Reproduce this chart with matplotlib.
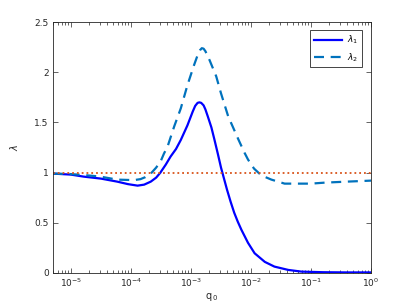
import numpy as np
import matplotlib
matplotlib.use('Agg')
from matplotlib import pyplot as plt
from matplotlib.ticker import LogLocator, FixedLocator, NullFormatter

# log10(q0) positions and eigenvalues
logq_1 = [-5.30, -5.00, -4.79, -4.50, -4.23, -4.05, -3.89, -3.78, -3.67, -3.58,
          -3.51, -3.42, -3.34, -3.25, -3.17, -3.06, -2.97, -2.93, -2.89, -2.86,
          -2.83, -2.79, -2.76, -2.72, -2.66, -2.61, -2.55, -2.50, -2.45, -2.40,
          -2.34, -2.28, -2.22, -2.16, -2.05, -1.94, -1.77, -1.61, -1.38, -1.16,
          -0.80, -0.40, 0.00]
lam_1 = [0.99, 0.98, 0.96, 0.94, 0.91, 0.885, 0.87, 0.88, 0.91, 0.95,
         1.00, 1.08, 1.16, 1.235, 1.325, 1.47, 1.61, 1.665, 1.695, 1.70,
         1.695, 1.67, 1.63, 1.56, 1.45, 1.33, 1.18, 1.05, 0.94, 0.83,
         0.71, 0.60, 0.51, 0.43, 0.30, 0.196, 0.11, 0.063, 0.03, 0.013,
         0.007, 0.005, 0.005]

logq_2 = [-5.30, -5.00, -4.79, -4.51, -4.23, -3.95, -3.84, -3.76, -3.67, -3.58,
          -3.50, -3.45, -3.39, -3.28, -3.17, -3.06, -2.95, -2.89, -2.85, -2.82,
          -2.79, -2.76, -2.69, -2.58, -2.50, -2.38, -2.21, -2.11, -2.05, -1.95,
          -1.86, -1.76, -1.66, -1.44, -1.21, -1.00, -0.77, -0.40, 0.00]
lam_2 = [0.99, 0.985, 0.976, 0.96, 0.93, 0.925, 0.935, 0.955, 0.99, 1.05,
         1.12, 1.19, 1.26, 1.46, 1.64, 1.87, 2.07, 2.17, 2.22, 2.24,
         2.235, 2.21, 2.12, 1.96, 1.79, 1.56, 1.33, 1.20, 1.13, 1.04,
         0.99, 0.955, 0.93, 0.89, 0.89, 0.89, 0.90, 0.91, 0.92]

ref_level = 1.0
x_range = (5e-6, 1.0)
y_ticks = [0, 0.5, 1, 1.5, 2, 2.5]
y_ticklabels = ['0', '0.5', '1', '1.5', '2', '2.5']

axis_gray = '#262626'

fig = plt.figure(figsize=(4.1, 3.07), dpi=100)
ax = fig.add_axes([0.129, 0.111, 0.776, 0.817])

q1 = 10.0 ** np.array(logq_1)
q2 = 10.0 ** np.array(logq_2)

ax.plot(q1, lam_1, color='#0000FF', lw=1.6, label=r'$\lambda_1$')
ax.plot(q2, lam_2, color='#0072BD', lw=1.6, dashes=(4.5, 3), label=r'$\lambda_2$')
ax.plot(x_range, [ref_level, ref_level], color='#D95319', lw=1.3, ls=':')

ax.set_xscale('log')
ax.set_xlim(*x_range)
ax.set_ylim(0, 2.5)
ax.set_yticks(y_ticks)
ax.set_yticklabels(y_ticklabels)
ax.xaxis.set_major_locator(FixedLocator([1e-5, 1e-4, 1e-3, 1e-2, 1e-1, 1e0]))
ax.xaxis.set_minor_locator(LogLocator(base=10, subs=np.arange(2, 10), numticks=20))
ax.xaxis.set_minor_formatter(NullFormatter())

for side in ax.spines.values():
    side.set_color(axis_gray)
    side.set_linewidth(0.6)

ax.tick_params(which='both', direction='in', top=True, right=True,
               colors=axis_gray, labelcolor=axis_gray, width=0.5)
ax.tick_params(which='major', length=3.5, labelsize=6.5, pad=3)
ax.tick_params(which='minor', length=2)

ax.set_xlabel(r'q$_{\,0}$', fontsize=7, color=axis_gray, labelpad=1)
ax.set_ylabel(r'$\lambda$', fontsize=7, color=axis_gray, labelpad=10)

leg = ax.legend(loc='upper right', fontsize=6.5, handlelength=3.2,
                fancybox=False, framealpha=1, borderpad=0.4,
                labelspacing=0.5, handletextpad=0.5,
                bbox_to_anchor=(0.985, 0.985))
leg.get_frame().set_edgecolor(axis_gray)
leg.get_frame().set_linewidth(0.6)

fig.savefig('out.png', dpi=100)
